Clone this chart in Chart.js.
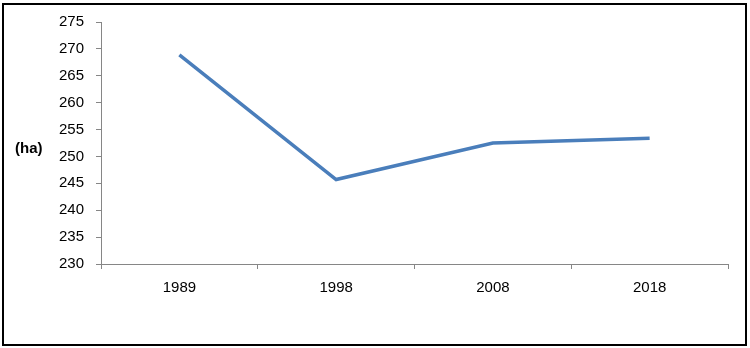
<!DOCTYPE html>
<html>
<head>
<meta charset="utf-8">
<script src="https://cdn.jsdelivr.net/npm/chart.js@4/dist/chart.umd.min.js"></script>
<style>
  html, body { margin: 0; padding: 0; background: #fff; }
  #wrap { position: relative; width: 750px; height: 348px; overflow: hidden; }
  #frame { position: absolute; left: 2px; top: 3px; width: 741px; height: 339px; border: 2.5px solid #000; pointer-events: none; }
  canvas { position: absolute; left: 0; top: 0; }
</style>
</head>
<body>
<div id="wrap">
  <canvas id="c" width="750" height="348"></canvas>
  <div id="frame"></div>
</div>
<script>
const categories = ['1989', '1998', '2008', '2018'];
const areaHa = [268.9, 245.7, 252.5, 253.4];
const yMin = 230, yMax = 275, yStep = 5;
const yUnitLabel = '(ha)';

const unitLabelPlugin = {
  id: 'unitLabel',
  afterDraw(chart) {
    const ctx = chart.ctx;
    const y = chart.scales.y;
    ctx.save();
    ctx.font = 'bold 15px "Liberation Sans", Arial, sans-serif';
    ctx.fillStyle = '#000';
    ctx.textAlign = 'left';
    ctx.textBaseline = 'middle';
    ctx.fillText(yUnitLabel, 15, y.getPixelForValue(251.4));
    ctx.restore();
  }
};

new Chart(document.getElementById('c'), {
  type: 'line',
  data: {
    labels: categories,
    datasets: [{
      data: areaHa,
      borderColor: '#4A7EBB',
      borderWidth: 3.5,
      pointRadius: 0,
      pointHoverRadius: 0,
      tension: 0,
      fill: false,
      borderJoinStyle: 'miter'
    }]
  },
  options: {
    responsive: false,
    animation: false,
    devicePixelRatio: 1,
    layout: { padding: { top: 22, right: 22, left: 0, bottom: 0 } },
    plugins: { legend: { display: false }, tooltip: { enabled: false } },
    scales: {
      x: {
        offset: true,
        grid: { display: true, drawOnChartArea: false, offset: true, tickLength: 5, color: '#868686', lineWidth: 1 },
        border: { display: true, color: '#868686', width: 1 },
        ticks: { color: '#000', font: { family: '"Liberation Sans", Arial, sans-serif', size: 15 }, padding: 10, maxRotation: 0 },
        afterFit(scale) { scale.height = 84; }
      },
      y: {
        min: yMin, max: yMax,
        grid: { display: true, drawOnChartArea: false, tickLength: 5, color: '#868686', lineWidth: 1 },
        border: { display: true, color: '#868686', width: 1 },
        ticks: { stepSize: yStep, color: '#000', font: { family: '"Liberation Sans", Arial, sans-serif', size: 15 }, padding: 12 },
        afterFit(scale) { scale.width = 101; }
      }
    }
  },
  plugins: [unitLabelPlugin]
});
</script>
</body>
</html>
